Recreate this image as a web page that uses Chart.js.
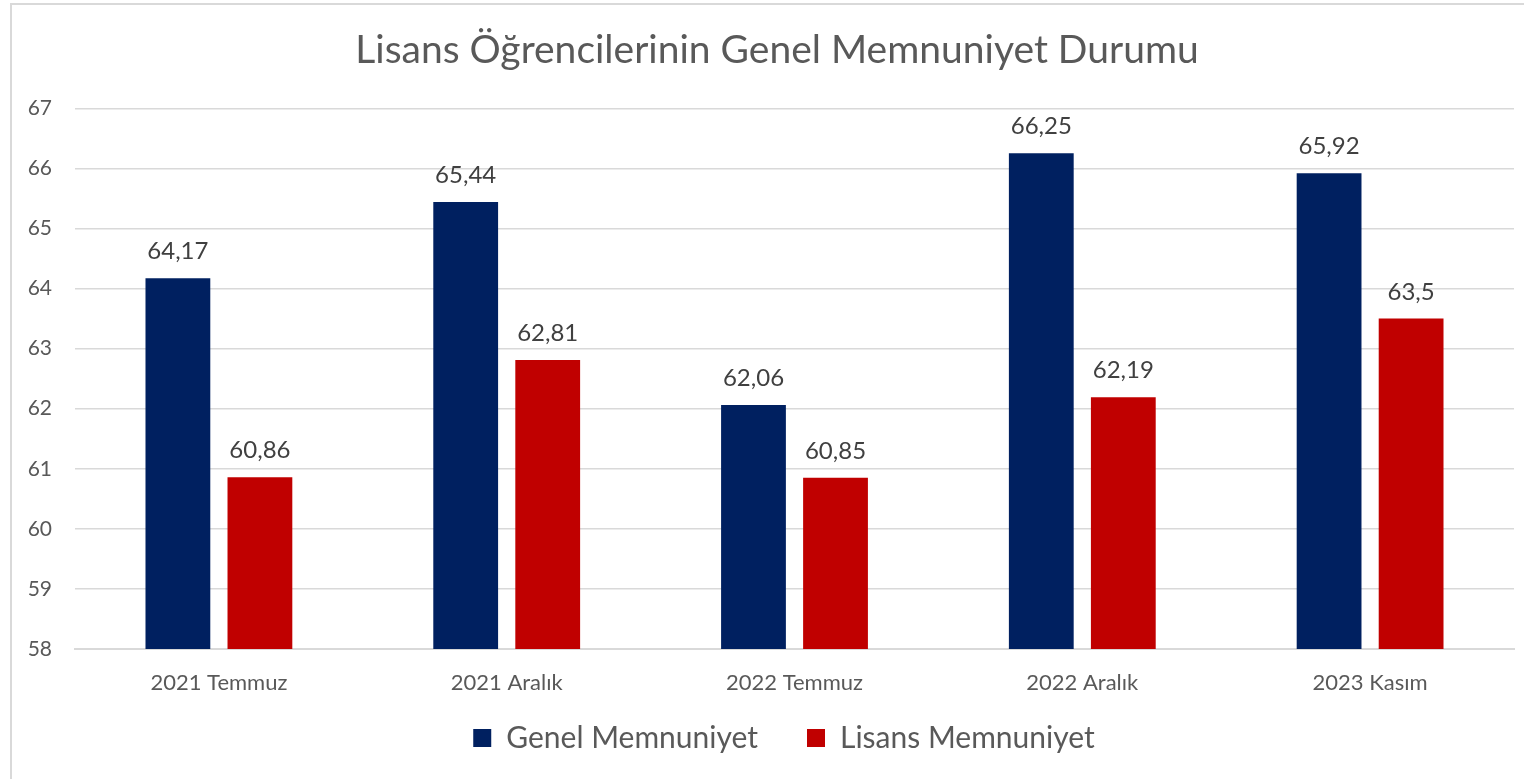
<!DOCTYPE html>
<html lang="tr">
<head>
    <meta charset="UTF-8" />
    <title>Lisans Öğrencilerinin Genel Memnuniyet Durumu</title>
    <script src="https://cdn.jsdelivr.net/npm/chart.js"></script>
    <style>
        html, body {
            margin: 0;
            padding: 0;
            overflow: hidden;
            background: #fff;
        }

        #frame {
            position: absolute;
            left: 10px;
            top: 3px;
            width: 1600px;
            height: 850px;
            border: 2px solid #d9d9d9;
        }

        #wrap {
            position: absolute;
            left: 0;
            top: 0;
            width: 1524px;
            height: 779px;
        }
    </style>
</head>
<body>
    <div id="frame"></div>
    <div id="wrap"><canvas id="chart"></canvas></div>

    <script>
        const categories = ['2021 Temmuz', '2021 Aralık', '2022 Temmuz', '2022 Aralık', '2023 Kasım'];
        const genelValues = [64.17, 65.44, 62.06, 66.25, 65.92];
        const lisansValues = [60.86, 62.81, 60.85, 62.19, 63.5];
        const yMin = 58;
        const yMax = 67;

        const font = 'Lato, "Open Sans", sans-serif';

        // değer etiketleri (virgüllü)
        const valueLabels = {
            id: 'valueLabels',
            afterDatasetsDraw(chart) {
                const ctx = chart.ctx;
                ctx.save();
                ctx.font = '24px ' + font;
                ctx.fillStyle = '#404040';
                ctx.textAlign = 'center';
                ctx.textBaseline = 'alphabetic';
                chart.data.datasets.forEach((ds, i) => {
                    chart.getDatasetMeta(i).data.forEach((bar, j) => {
                        const txt = String(ds.data[j]).replace('.', ',');
                        ctx.fillText(txt, bar.x, bar.y - 19);
                    });
                });
                ctx.restore();
            }
        };

        // lejant: geniş öğe aralığı, ama kutu alçak ve biraz yukarıda; başlık biraz sağda
        const legendPlace = {
            id: 'legendPlace',
            beforeLayout(chart) {
                const lg = chart.legend;
                if (lg && !lg._patched) {
                    const fit = lg.fit;
                    lg.fit = function () { fit.call(this); this.height = 84; };
                    lg._patched = true;
                }
            },
            afterLayout(chart) {
                const lg = chart.legend;
                lg.top -= 21;
                lg.bottom -= 21;
                lg.left += 22;
                lg.right += 22;
                chart.titleBlock.left += 15;
                chart.titleBlock.right += 15;
            }
        };

        new Chart(document.getElementById('chart'), {
            type: 'bar',
            data: {
                labels: categories,
                datasets: [
                    { label: 'Genel Memnuniyet', data: genelValues, backgroundColor: '#002060' },
                    { label: 'Lisans Memnuniyet', data: lisansValues, backgroundColor: '#C00000' }
                ]
            },
            options: {
                responsive: true,
                maintainAspectRatio: false,
                animation: false,
                layout: { padding: { left: 10, right: 10, top: 0, bottom: 0 } },
                datasets: { bar: { categoryPercentage: 0.57, barPercentage: 0.79 } },
                plugins: {
                    title: {
                        display: true,
                        text: 'Lisans Öğrencilerinin Genel Memnuniyet Durumu',
                        color: '#595959',
                        font: { family: font, size: 39, weight: 'normal' },
                        padding: { top: 27.5, bottom: 34 }
                    },
                    legend: {
                        position: 'bottom',
                        labels: {
                            color: '#595959',
                            font: { family: font, size: 30 },
                            boxWidth: 18,
                            boxHeight: 18,
                            padding: 49
                        }
                    },
                    tooltip: { enabled: false }
                },
                scales: {
                    x: {
                        grid: { display: false },
                        border: { display: true, color: '#d9d9d9', width: 2 },
                        ticks: { color: '#595959', font: { family: font, size: 22 }, padding: 13 },
                        afterFit(scale) { scale.height = 46; }
                    },
                    y: {
                        min: yMin,
                        max: yMax,
                        grid: { color: '#d9d9d9', lineWidth: 1.5, drawTicks: false },
                        border: { display: false },
                        ticks: { stepSize: 1, color: '#595959', font: { family: font, size: 21 }, padding: 23 },
                        afterFit(scale) { scale.width = 65; }
                    }
                }
            },
            plugins: [valueLabels, legendPlace]
        });
    </script>
</body>
</html>
